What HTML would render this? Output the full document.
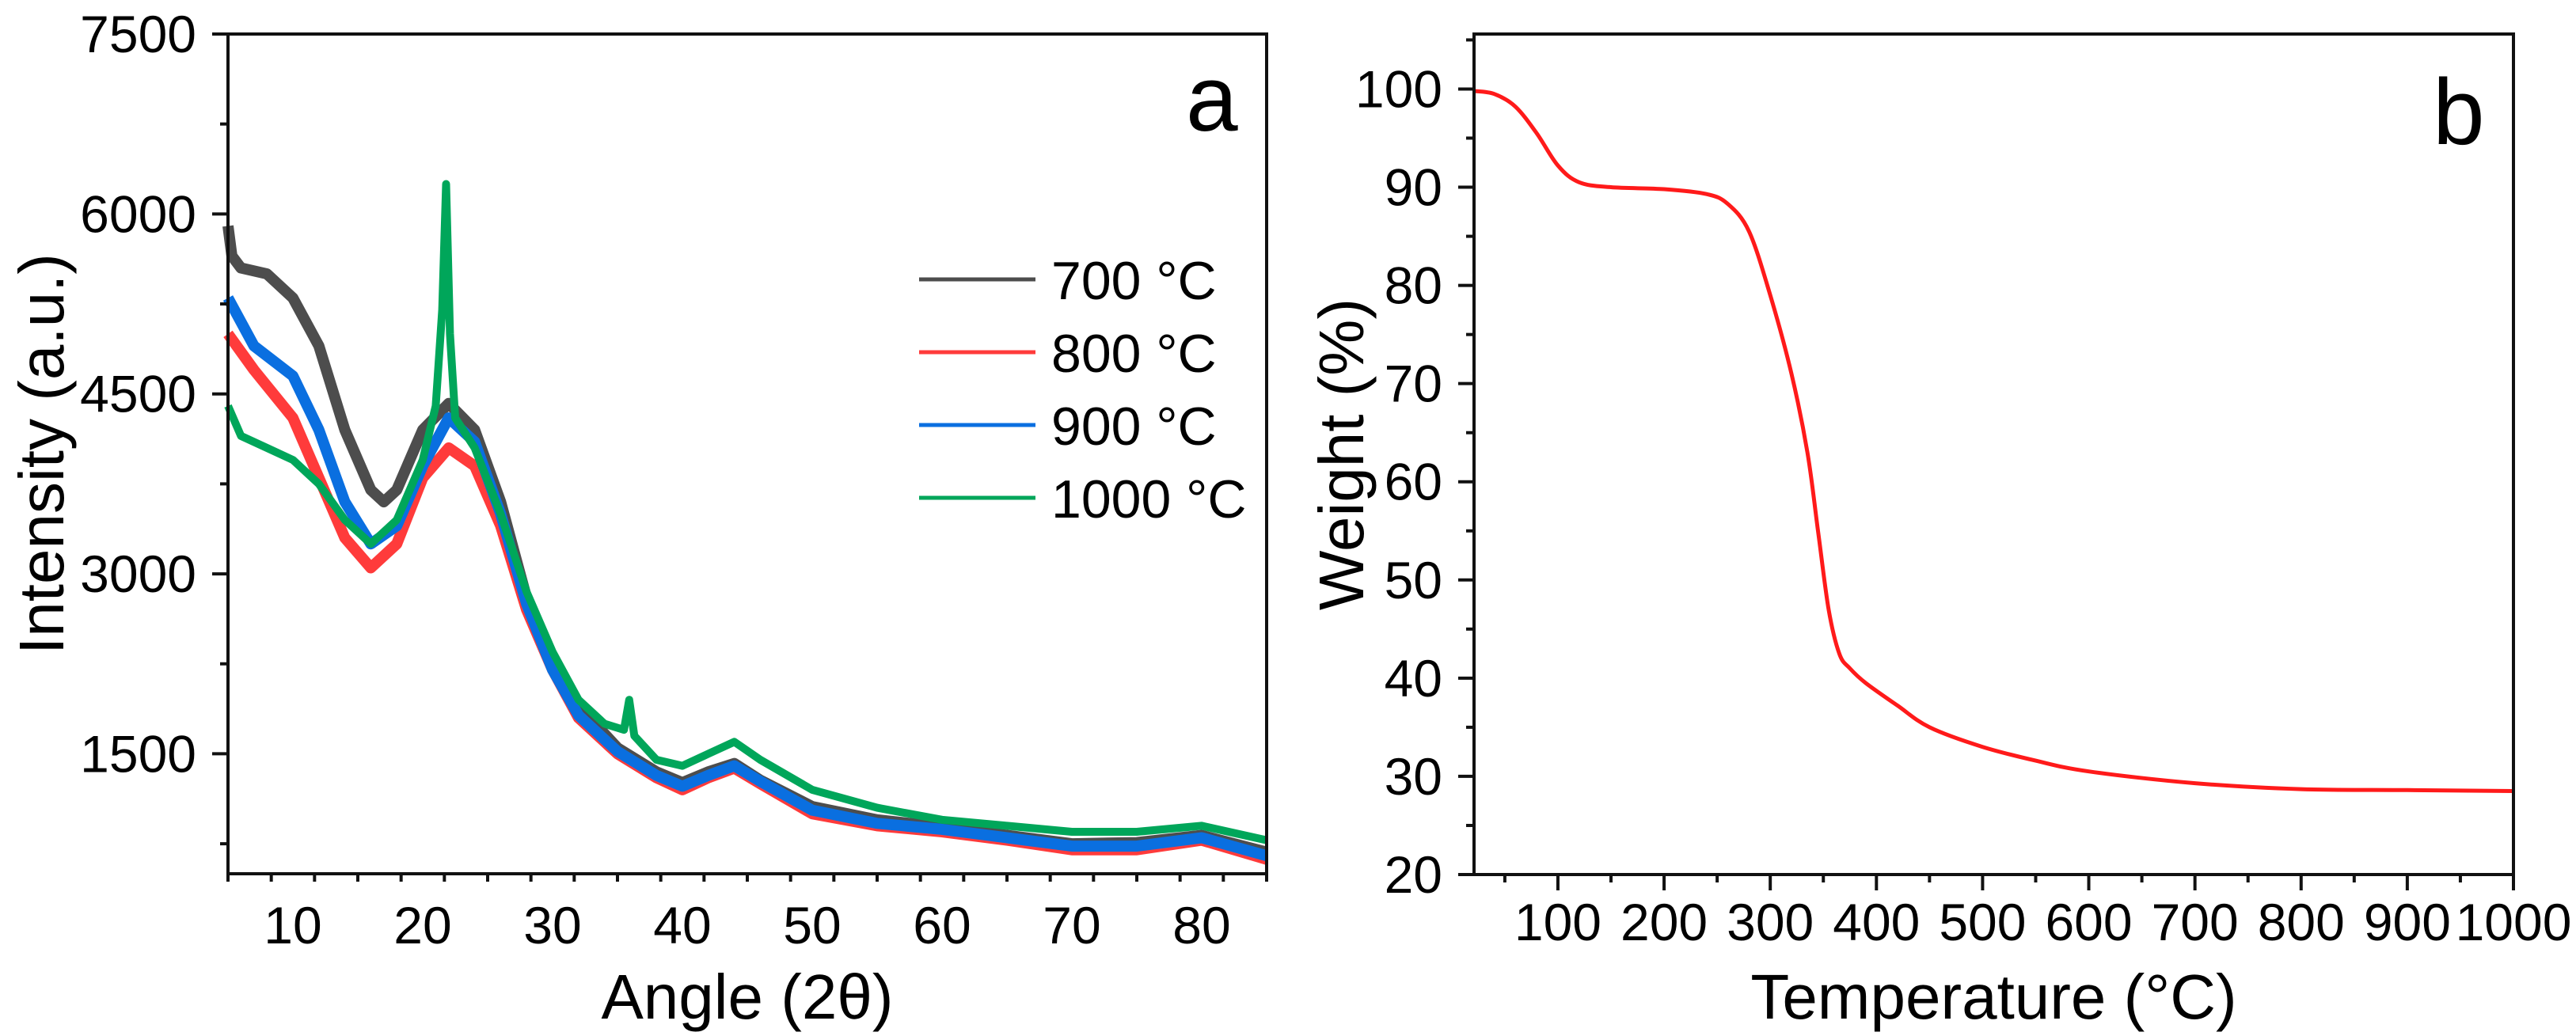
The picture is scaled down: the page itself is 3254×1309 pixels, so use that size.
<!DOCTYPE html>
<html><head><meta charset="utf-8">
<style>
html,body{margin:0;padding:0;background:#fff;}
svg{display:block;font-family:"Liberation Sans",Arial,sans-serif;}
</style></head>
<body>
<svg id="fig" width="3254" height="1309" viewBox="0 0 3254 1309" xmlns="http://www.w3.org/2000/svg">
  <g id="panelA"></g>
  <g id="panelB"></g>
</svg>
<script>
// ---------- Panel a data (XRD) ----------
const xrdX700 = [5,5.3,6,8,10,12,14,16,17,18,20,22,24,26,28,30,32,35,38,40,42,44,46,50,55,60,65,70,75,80,85];
const xrdY700 = [5900,5650,5550,5500,5300,4900,4200,3700,3600,3700,4200,4420,4200,3600,2800,2300,1900,1550,1350,1260,1350,1420,1280,1060,950,890,820,750,760,820,680];
const xrdX800 = [5,7,10,12,14,16,18,20,22,24,26,28,30,32,35,38,40,42,44,46,50,55,60,65,70,75,80,85];
const xrdY800 = [5000,4700,4300,3800,3300,3050,3250,3800,4050,3900,3400,2700,2200,1800,1500,1300,1200,1300,1380,1250,1000,900,850,780,700,700,780,620];
const xrdX900 = [5,7,10,12,14,16,18,20,22,24,26,28,30,32,35,38,40,42,44,46,50,55,60,65,70,75,80,85];
const xrdY900 = [5300,4900,4650,4200,3600,3250,3400,3900,4300,4100,3500,2750,2200,1820,1520,1320,1230,1320,1400,1270,1030,920,870,800,730,730,800,650];
const xrdX1000 = [5,6,8,10,12,14,16,18,20,21,21.5,21.8,22.1,22.5,24,26,28,30,32,34,35.5,35.9,36.3,38,40,42,44,46,50,55,60,65,70,75,80,85];
const xrdY1000 = [4400,4150,4050,3950,3750,3450,3250,3450,3950,4400,5200,6250,5000,4300,4050,3500,2850,2350,1950,1750,1700,1950,1650,1450,1400,1500,1600,1450,1200,1050,950,900,850,850,900,780];
const xrdLabels = ["700 °C","800 °C","900 °C","1000 °C"];
const xrdColors = ["#4d4d4d","#ff3b3b","#0a6fe0","#00a65a"];
const xrdXTicks = [10,20,30,40,50,60,70,80];
const xrdYTicks = [1500,3000,4500,6000,7500];
// ---------- Panel b data (TGA) ----------
const tgaT = [21,40,60,80,100,120,150,200,240,260,280,300,320,335,345,355,365,375,390,420,450,500,550,600,700,800,900,1000];
const tgaW = [99.8,99.5,98.2,95.5,92.2,90.5,90.0,89.8,89.3,88.3,85.5,79,71,63,55,47,42.5,41,39.5,37.2,35,33,31.6,30.5,29.3,28.7,28.6,28.5];
const tgaXTicks = [100,200,300,400,500,600,700,800,900,1000];
const tgaYTicks = [20,30,40,50,60,70,80,90,100];

const NS="http://www.w3.org/2000/svg";
function mk(parent,tag,attrs,text){const e=document.createElementNS(NS,tag);for(const k in attrs)e.setAttribute(k,attrs[k]);if(text!==undefined)e.textContent=text;parent.appendChild(e);return e;}

// ---- Panel a ----
const A={l:288,r:1600,t:43,b:1104,x0:5,x1:85,y0:500,y1:7500};
const ax=v=>A.l+(v-A.x0)/(A.x1-A.x0)*(A.r-A.l);
const ay=v=>A.b-(v-A.y0)/(A.y1-A.y0)*(A.b-A.t);
const pa=document.getElementById('panelA');
const seriesX=[xrdX700,xrdX800,xrdX900,xrdX1000], seriesY=[xrdY700,xrdY800,xrdY900,xrdY1000];
for(let s=0;s<4;s++){
  const d=seriesX[s].map((x,i)=>(i?'L':'M')+ax(x).toFixed(1)+' '+ay(seriesY[s][i]).toFixed(1)).join(' ');
  const p=mk(pa,'path',{d:d,fill:'none',stroke:xrdColors[s],'stroke-width':s===3?10:14,'stroke-linejoin':'round'});
  
  
}
const frA=mk(pa,'rect',{x:A.l,y:A.t,width:A.r-A.l,height:A.b-A.t,fill:'none',stroke:'#111','stroke-width':4});


for(let v=750;v<=7500;v+=750){
  const major=xrdYTicks.includes(v);
  mk(pa,'line',{x1:A.l-(major?20:10),x2:A.l,y1:ay(v),y2:ay(v),stroke:'#111','stroke-width':4});
}
for(const v of xrdYTicks){
  const t=mk(pa,'text',{x:248,y:ay(v)+23,'text-anchor':'end','font-size':66},String(v));
  
  
}
for(let k=0;k<=24;k++){
  const v=5+k*10/3; if(v>85.01)break;
  const major=Math.abs(v-Math.round(v))<0.01 && Math.round(v)%10===0;
  mk(pa,'line',{x1:ax(v),x2:ax(v),y1:A.b,y2:A.b+(major?20:10),stroke:'#111','stroke-width':4});
}
for(const v of xrdXTicks){
  const t=mk(pa,'text',{x:ax(v),y:1192,'text-anchor':'middle','font-size':66},String(v));
  
  
}
let tt=mk(pa,'text',{x:(A.l+A.r)/2,y:1287,'text-anchor':'middle','font-size':80},'Angle (2θ)');


tt=mk(pa,'text',{x:0,y:0,'text-anchor':'middle','font-size':80,transform:'translate(80,'+((A.t+A.b)/2)+') rotate(-90)'},'Intensity (a.u.)');


tt=mk(pa,'text',{x:1498,y:165,'font-size':118},'a');


for(let s=0;s<4;s++){
  const y=353+s*92;
  const g=mk(pa,'g',{});
  
  
  mk(g,'line',{x1:1161,x2:1308,y1:y,y2:y,stroke:xrdColors[s],'stroke-width':5});
  mk(g,'text',{x:1328,y:y+25,'font-size':68},xrdLabels[s]);
}

// ---- Panel b ----
const B={l:1862,r:3175,t:43,b:1105,x0:21,x1:1000,y0:20,y1:105.6};
const bx=v=>B.l+(v-B.x0)/(B.x1-B.x0)*(B.r-B.l);
const by=v=>B.b-(v-B.y0)/(B.y1-B.y0)*(B.b-B.t);
const pb=document.getElementById('panelB');
const pts=tgaT.map((t,i)=>[bx(t),by(tgaW[i])]);
let d='M'+pts[0][0].toFixed(1)+' '+pts[0][1].toFixed(1);
for(let i=0;i<pts.length-1;i++){
  const p0=pts[Math.max(0,i-1)],p1=pts[i],p2=pts[i+1],p3=pts[Math.min(pts.length-1,i+2)];
  const c1=[p1[0]+(p2[0]-p0[0])/6,p1[1]+(p2[1]-p0[1])/6];
  const c2=[p2[0]-(p3[0]-p1[0])/6,p2[1]-(p3[1]-p1[1])/6];
  d+=` C${c1[0].toFixed(1)} ${c1[1].toFixed(1)} ${c2[0].toFixed(1)} ${c2[1].toFixed(1)} ${p2[0].toFixed(1)} ${p2[1].toFixed(1)}`;
}
const tl=mk(pb,'path',{d:d,fill:'none',stroke:'#ff1a1a','stroke-width':5});


const frB=mk(pb,'rect',{x:B.l,y:B.t,width:B.r-B.l,height:B.b-B.t,fill:'none',stroke:'#111','stroke-width':4});


for(let v=20;v<=105;v+=5){
  const major=v%10===0;
  mk(pb,'line',{x1:B.l-(major?20:10),x2:B.l,y1:by(v),y2:by(v),stroke:'#111','stroke-width':4});
}
for(const v of tgaYTicks){
  const t=mk(pb,'text',{x:1822,y:by(v)+23,'text-anchor':'end','font-size':66},String(v));
  
  
}
for(let v=50;v<=1000;v+=50){
  const major=v%100===0;
  mk(pb,'line',{x1:bx(v),x2:bx(v),y1:B.b,y2:B.b+(major?20:10),stroke:'#111','stroke-width':4});
}
for(const v of tgaXTicks){
  const t=mk(pb,'text',{x:bx(v),y:1188,'text-anchor':'middle','font-size':66},String(v));
  
  
}
tt=mk(pb,'text',{x:(B.l+B.r)/2,y:1287,'text-anchor':'middle','font-size':80},'Temperature (°C)');


tt=mk(pb,'text',{x:0,y:0,'text-anchor':'middle','font-size':80,transform:'translate(1722,'+((B.t+B.b)/2)+') rotate(-90)'},'Weight (%)');


tt=mk(pb,'text',{x:3073,y:182,'font-size':118},'b');


</script>
</body></html>
